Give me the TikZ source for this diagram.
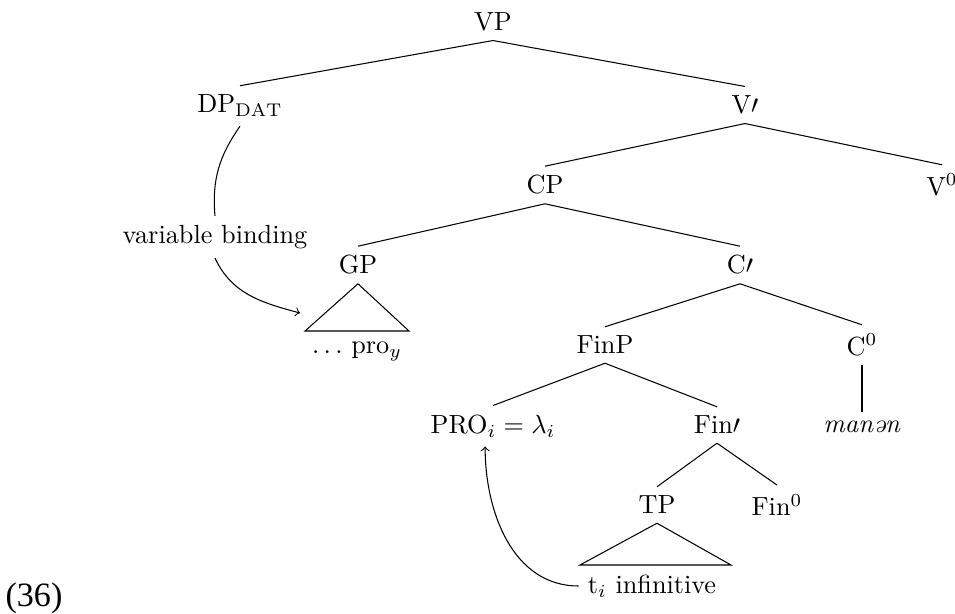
\documentclass[tikz,border=0pt]{standalone}
\usepackage{fontspec}
\usepackage{amsmath}
\usetikzlibrary{positioning,calc}
\newfontfamily\exfont{Liberation Serif}

\begin{document}
\begin{tikzpicture}[x=0.0134cm,y=-0.0134cm,
        bind/.style={->,>=to},
        numlbl/.style={inner sep=0pt}]
        \useasboundingbox (0,0) rectangle (955,614);

        \node (vp) at (493,22) {VP};
        \node (dpdat) at (240,106) {DP$_{\mathrm{DAT}}$};
        \node (vbar) at (745,105) {V$\prime$};
        \node (cp) at (545,185) {CP};
        \node (vzero) at (942,185) {V$^0$};
        \node (gp) at (358,265) {GP};
        \node (cbar) at (740,265) {C$\prime$};
        \node (proy) at (357,351) {$\ldots$ pro$_y$};
        \node (finp) at (605,345) {FinP};
        \node (czero) at (862,345) {C$^0$};
        \node (pro) at (493,426) {PRO$_i = \lambda_i$};
        \node (finbar) at (717,425) {Fin$\prime$};
        \node (manen) at (862,427) {\textit{manən}};
        \node (tp) at (657,505) {TP};
        \node (finzero) at (777,505) {Fin$^0$};
        \node (tinf) at (652,586) {t$_i$ infinitive};
        \node (binding) at (215,237) {variable binding};
        \node[numlbl] (exnum) at (34,598) {\exfont\fontsize{13}{15}\selectfont (36)};

        \coordinate (gpl) at (300,313);

        \draw (vp.south) -- (dpdat.north);
        \draw (vp.south) -- (vbar.north);
        \draw (vbar.south) -- (cp.north);
        \draw (vbar.south) -- (vzero.north);
        \draw (cp.south) -- (gp.north);
        \draw (cp.south) -- (cbar.north);
        \draw (cbar.south) -- (finp.north);
        \draw (cbar.south) -- (czero.north);
        \draw (czero.south) -- (manen.north);
        \draw (finp.south) -- (pro.north);
        \draw (finp.south) -- (finbar.north);
        \draw (finbar.south) -- (tp.north);
        \draw (finbar.south) -- (finzero.north);

        \draw (gp.south) -- (305,331) -- (409,331) -- cycle;
        \draw (tp.south) -- (580,565) -- (731,565) -- cycle;

        \draw (dpdat.south) to[out=235,in=95] (binding.north);
        \draw[bind] (binding.south) to[out=-65,in=165] (gpl);
        \draw[bind] (tinf.west) to[out=180,in=-90] ([xshift=-3]pro.south);
    \end{tikzpicture}
\end{document}
